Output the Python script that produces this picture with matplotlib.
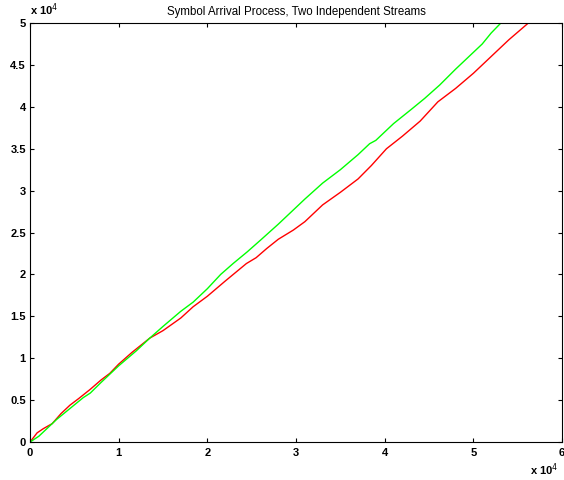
import numpy as np
import matplotlib
matplotlib.use('Agg')
import matplotlib.pyplot as plt

# values, both axes in units of 1e4
green_x = [0, 0.1, 0.2, 0.3, 0.45, 0.6, 0.68, 0.8, 1.0, 1.2, 1.35, 1.5, 1.7, 1.84, 2.0, 2.15, 2.29,
           2.45, 2.6, 2.8, 2.97, 3.1, 3.3, 3.5, 3.7, 3.83, 3.9, 4.1, 4.3, 4.45, 4.62, 4.8,
           4.95, 5.1, 5.2, 5.31]
green_y = [0, 0.07, 0.17, 0.27, 0.4, 0.53, 0.585, 0.71, 0.91, 1.09, 1.24, 1.38, 1.56, 1.67, 1.83, 2.0, 2.13,
           2.27, 2.41, 2.6, 2.77, 2.9, 3.09, 3.25, 3.43, 3.56, 3.6, 3.8, 3.97, 4.1, 4.26, 4.45,
           4.6, 4.75, 4.88, 5.0]

red_x = [0, 0.08, 0.15, 0.25, 0.35, 0.45, 0.55, 0.68, 0.8, 0.9, 1.0, 1.15, 1.35, 1.5, 1.7, 1.84, 2.0,
         2.2, 2.44, 2.55, 2.67, 2.8, 2.97, 3.1, 3.3, 3.5, 3.7, 3.85, 4.02, 4.2, 4.4, 4.6, 4.8,
         5.0, 5.2, 5.4, 5.62]
red_y = [0, 0.11, 0.16, 0.22, 0.34, 0.44, 0.52, 0.63, 0.74, 0.82, 0.93, 1.07, 1.24, 1.33, 1.48, 1.615, 1.74,
         1.92, 2.13, 2.2, 2.31, 2.42, 2.53, 2.63, 2.83, 2.98, 3.14, 3.3, 3.5, 3.65, 3.83, 4.06, 4.22,
         4.4, 4.6, 4.8, 5.0]

x_ticks = [0, 1, 2, 3, 4, 5, 6]
y_ticks = [0, 0.5, 1, 1.5, 2, 2.5, 3, 3.5, 4, 4.5, 5]

plt.rcParams['font.family'] = ['Liberation Sans', 'DejaVu Sans']

fig = plt.figure(figsize=(5.64, 4.8), dpi=100)
ax = fig.add_axes([0.0532, 0.079, 0.9433, 0.873])

ax.plot(red_x, red_y, color='#ff0000', lw=1.0)
ax.plot(green_x, green_y, color='#00ff00', lw=1.0)

ax.set_xlim(0, 6)
ax.set_ylim(0, 5)
ax.set_xticks(x_ticks)
ax.set_yticks(y_ticks)
ax.set_xticklabels([f'{t:g}' for t in x_ticks], fontweight='bold')
ax.set_yticklabels([f'{t:g}' for t in y_ticks], fontweight='bold')
ax.tick_params(direction='in', length=3, width=0.8, labelsize=8,
               top=True, right=True)
ax.tick_params(axis='x', pad=4)
ax.tick_params(axis='y', pad=3)
for s in ax.spines.values():
    s.set_linewidth(0.8)

ax.set_title('Symbol Arrival Process, Two Independent Streams', fontsize=8.3, pad=6)
fig.text(0.054, 0.962, r'x 10$^4$', fontsize=8, fontweight='bold', ha='left', va='bottom')
fig.text(0.99, 0.005, r'x 10$^4$', fontsize=8, fontweight='bold', ha='right', va='bottom')

fig.savefig('out.png', dpi=100)
